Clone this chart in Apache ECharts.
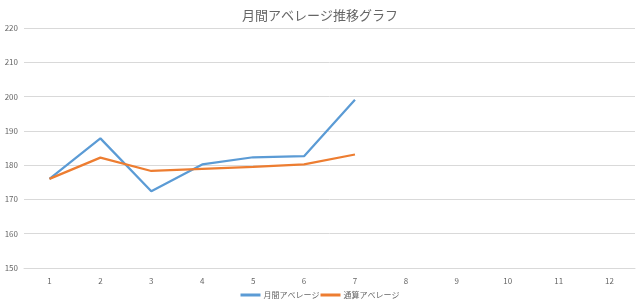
<!DOCTYPE html>
<html><head><meta charset="utf-8">
<script src="https://cdn.jsdelivr.net/npm/echarts@6/dist/echarts.min.js"></script>
<style>html,body{margin:0;padding:0;background:#fff}#c{width:640px;height:305px}</style>
</head><body><div id="c"></div>
<script>
const categories = ['1','2','3','4','5','6','7','8','9','10','11','12'];
const monthly = [176.0, 187.8, 172.4, 180.2, 182.3, 182.6, 199.1];
const cumulative = [176.0, 182.2, 178.3, 178.9, 179.5, 180.2, 183.1];
const seriesNames = ['月間アベレージ', '通算アベレージ'];
const titleText = '月間アベレージ推移グラフ';

const chart = echarts.init(document.getElementById('c'), null, {renderer: 'canvas'});
const font = '"Noto Sans CJK JP", "Noto Sans", sans-serif';
chart.setOption({
  animation: false,
  title: {text: titleText, left: 'center', top: 4,
    textStyle: {fontFamily: font, fontSize: 13, fontWeight: 'normal', color: '#666666'}},
  legend: {bottom: 1, left: 'center', itemWidth: 20, itemHeight: 3, itemGap: 1,
    icon: 'rect',
    textStyle: {fontFamily: font, fontSize: 8, color: '#666666', padding: [0, 0, 0, -2]},
    data: seriesNames},
  grid: {left: 24, right: 5, top: 28, bottom: 37, containLabel: false},
  xAxis: {type: 'category', data: categories, boundaryGap: true,
    axisLine: {show: true, lineStyle: {color: '#d9d9d9'}},
    axisTick: {show: false},
    axisLabel: {fontFamily: font, fontSize: 8, color: '#666666', margin: 9}},
  yAxis: {type: 'value', min: 150, max: 220, interval: 10,
    axisLine: {show: false}, axisTick: {show: false},
    splitLine: {lineStyle: {color: '#d9d9d9'}},
    axisLabel: {fontFamily: font, fontSize: 8, color: '#666666', margin: 6}},
  series: [
    {name: seriesNames[0], type: 'line', data: monthly, symbol: 'none',
     lineStyle: {width: 2.25, color: '#5B9BD5'}, itemStyle: {color: '#5B9BD5'}},
    {name: seriesNames[1], type: 'line', data: cumulative, symbol: 'none',
     lineStyle: {width: 2.25, color: '#ED7D31'}, itemStyle: {color: '#ED7D31'}}
  ]
});
</script></body></html>
